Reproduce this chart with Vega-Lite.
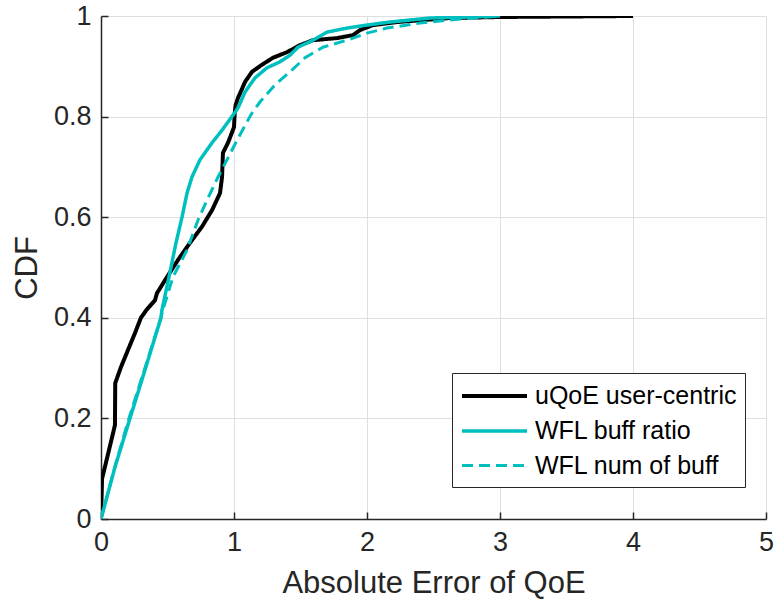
{
  "$schema": "https://vega.github.io/schema/vega-lite/v6.json",
  "width": 665,
  "height": 503,
  "autosize": {"type": "none"},
  "padding": {"left": 101, "top": 16, "right": 10, "bottom": 91},
  "background": "white",
  "config": {
    "font": "Liberation Sans",
    "view": {"stroke": null},
    "axis": {
      "domainColor": "#262626",
      "domainWidth": 1.5,
      "tickColor": "#262626",
      "tickWidth": 1.5,
      "tickSize": -7,
      "gridColor": "#dfdfdf",
      "gridWidth": 1,
      "labelColor": "#262626",
      "labelFont": "Liberation Sans",
      "labelFontSize": 27,
      "titleColor": "#262626",
      "titleFont": "Liberation Sans",
      "titleFontSize": 31,
      "titleFontWeight": "normal"
    }
  },
  "data": {
    "values": [
      {"s": "uQoE user-centric", "x": 0, "y": 0},
      {"s": "uQoE user-centric", "x": 0.008, "y": 0.08},
      {"s": "uQoE user-centric", "x": 0.09, "y": 0.17},
      {"s": "uQoE user-centric", "x": 0.105, "y": 0.187},
      {"s": "uQoE user-centric", "x": 0.107, "y": 0.27},
      {"s": "uQoE user-centric", "x": 0.15, "y": 0.302},
      {"s": "uQoE user-centric", "x": 0.203, "y": 0.336},
      {"s": "uQoE user-centric", "x": 0.256, "y": 0.37},
      {"s": "uQoE user-centric", "x": 0.3, "y": 0.4},
      {"s": "uQoE user-centric", "x": 0.343, "y": 0.416},
      {"s": "uQoE user-centric", "x": 0.406, "y": 0.435},
      {"s": "uQoE user-centric", "x": 0.421, "y": 0.449},
      {"s": "uQoE user-centric", "x": 0.496, "y": 0.481},
      {"s": "uQoE user-centric", "x": 0.579, "y": 0.515},
      {"s": "uQoE user-centric", "x": 0.669, "y": 0.549},
      {"s": "uQoE user-centric", "x": 0.759, "y": 0.581},
      {"s": "uQoE user-centric", "x": 0.835, "y": 0.614},
      {"s": "uQoE user-centric", "x": 0.895, "y": 0.648},
      {"s": "uQoE user-centric", "x": 0.91, "y": 0.68},
      {"s": "uQoE user-centric", "x": 0.917, "y": 0.728},
      {"s": "uQoE user-centric", "x": 0.955, "y": 0.748},
      {"s": "uQoE user-centric", "x": 1.0, "y": 0.779},
      {"s": "uQoE user-centric", "x": 1.005, "y": 0.805},
      {"s": "uQoE user-centric", "x": 1.012, "y": 0.823},
      {"s": "uQoE user-centric", "x": 1.03, "y": 0.837},
      {"s": "uQoE user-centric", "x": 1.083, "y": 0.869},
      {"s": "uQoE user-centric", "x": 1.135, "y": 0.889},
      {"s": "uQoE user-centric", "x": 1.21, "y": 0.903},
      {"s": "uQoE user-centric", "x": 1.293, "y": 0.917},
      {"s": "uQoE user-centric", "x": 1.398, "y": 0.928},
      {"s": "uQoE user-centric", "x": 1.496, "y": 0.942},
      {"s": "uQoE user-centric", "x": 1.594, "y": 0.952},
      {"s": "uQoE user-centric", "x": 1.774, "y": 0.956},
      {"s": "uQoE user-centric", "x": 1.895, "y": 0.962},
      {"s": "uQoE user-centric", "x": 1.947, "y": 0.972},
      {"s": "uQoE user-centric", "x": 2.045, "y": 0.982},
      {"s": "uQoE user-centric", "x": 2.226, "y": 0.988},
      {"s": "uQoE user-centric", "x": 2.624, "y": 0.996},
      {"s": "uQoE user-centric", "x": 3.0, "y": 0.998},
      {"s": "uQoE user-centric", "x": 4.0, "y": 1.0},

      {"s": "WFL buff ratio", "x": 0, "y": 0},
      {"s": "WFL buff ratio", "x": 0.105, "y": 0.103},
      {"s": "WFL buff ratio", "x": 0.218, "y": 0.2},
      {"s": "WFL buff ratio", "x": 0.335, "y": 0.3},
      {"s": "WFL buff ratio", "x": 0.451, "y": 0.4},
      {"s": "WFL buff ratio", "x": 0.458, "y": 0.415},
      {"s": "WFL buff ratio", "x": 0.511, "y": 0.481},
      {"s": "WFL buff ratio", "x": 0.564, "y": 0.549},
      {"s": "WFL buff ratio", "x": 0.609, "y": 0.6},
      {"s": "WFL buff ratio", "x": 0.647, "y": 0.648},
      {"s": "WFL buff ratio", "x": 0.684, "y": 0.68},
      {"s": "WFL buff ratio", "x": 0.744, "y": 0.714},
      {"s": "WFL buff ratio", "x": 0.835, "y": 0.748},
      {"s": "WFL buff ratio", "x": 0.91, "y": 0.773},
      {"s": "WFL buff ratio", "x": 1.02, "y": 0.813},
      {"s": "WFL buff ratio", "x": 1.035, "y": 0.82},
      {"s": "WFL buff ratio", "x": 1.083, "y": 0.849},
      {"s": "WFL buff ratio", "x": 1.158, "y": 0.877},
      {"s": "WFL buff ratio", "x": 1.248, "y": 0.897},
      {"s": "WFL buff ratio", "x": 1.346, "y": 0.909},
      {"s": "WFL buff ratio", "x": 1.421, "y": 0.922},
      {"s": "WFL buff ratio", "x": 1.481, "y": 0.938},
      {"s": "WFL buff ratio", "x": 1.594, "y": 0.952},
      {"s": "WFL buff ratio", "x": 1.699, "y": 0.968},
      {"s": "WFL buff ratio", "x": 1.85, "y": 0.976},
      {"s": "WFL buff ratio", "x": 2.0, "y": 0.982},
      {"s": "WFL buff ratio", "x": 2.173, "y": 0.988},
      {"s": "WFL buff ratio", "x": 2.474, "y": 0.996},
      {"s": "WFL buff ratio", "x": 2.77, "y": 0.998},
      {"s": "WFL buff ratio", "x": 3.0, "y": 1.0},

      {"s": "WFL num of buff", "x": 0, "y": 0},
      {"s": "WFL num of buff", "x": 0.1, "y": 0.1},
      {"s": "WFL num of buff", "x": 0.21, "y": 0.2},
      {"s": "WFL num of buff", "x": 0.33, "y": 0.3},
      {"s": "WFL num of buff", "x": 0.45, "y": 0.4},
      {"s": "WFL num of buff", "x": 0.466, "y": 0.416},
      {"s": "WFL num of buff", "x": 0.541, "y": 0.481},
      {"s": "WFL num of buff", "x": 0.647, "y": 0.535},
      {"s": "WFL num of buff", "x": 0.729, "y": 0.594},
      {"s": "WFL num of buff", "x": 0.797, "y": 0.634},
      {"s": "WFL num of buff", "x": 0.88, "y": 0.68},
      {"s": "WFL num of buff", "x": 0.947, "y": 0.714},
      {"s": "WFL num of buff", "x": 1.023, "y": 0.753},
      {"s": "WFL num of buff", "x": 1.105, "y": 0.793},
      {"s": "WFL num of buff", "x": 1.135, "y": 0.807},
      {"s": "WFL num of buff", "x": 1.195, "y": 0.829},
      {"s": "WFL num of buff", "x": 1.308, "y": 0.863},
      {"s": "WFL num of buff", "x": 1.421, "y": 0.889},
      {"s": "WFL num of buff", "x": 1.534, "y": 0.917},
      {"s": "WFL num of buff", "x": 1.669, "y": 0.938},
      {"s": "WFL num of buff", "x": 1.85, "y": 0.952},
      {"s": "WFL num of buff", "x": 1.895, "y": 0.956},
      {"s": "WFL num of buff", "x": 2.0, "y": 0.966},
      {"s": "WFL num of buff", "x": 2.15, "y": 0.976},
      {"s": "WFL num of buff", "x": 2.4, "y": 0.986},
      {"s": "WFL num of buff", "x": 2.7, "y": 0.994},
      {"s": "WFL num of buff", "x": 3.0, "y": 1.0}
    ]
  },
  "mark": {"type": "line", "clip": true},
  "encoding": {
    "x": {
      "field": "x", "type": "quantitative",
      "scale": {"domain": [0, 5], "nice": false, "zero": false},
      "axis": {"title": "Absolute Error of QoE", "values": [0, 1, 2, 3, 4, 5], "format": "~g", "labelPadding": 17, "titlePadding": 13, "labelFlush": false}
    },
    "y": {
      "field": "y", "type": "quantitative",
      "scale": {"domain": [0, 1], "nice": false},
      "axis": {"title": "CDF", "values": [0, 0.2, 0.4, 0.6, 0.8, 1], "format": "~g", "labelPadding": 17, "titlePadding": 10, "labelFlush": false}
    },
    "color": {
      "field": "s", "type": "nominal",
      "scale": {"domain": ["uQoE user-centric", "WFL buff ratio", "WFL num of buff"], "range": ["#000000", "#00BFBF", "#00BFBF"]},
      "legend": {
        "title": null,
        "orient": "none",
        "legendX": 351,
        "legendY": 357,
        "fillColor": "white",
        "strokeColor": "#262626",
        "padding": 8,
        "symbolType": "M-1,0H4",
        "symbolSize": 676,
        "symbolFillColor": "transparent",
        "symbolStrokeWidth": 4,
        "labelFont": "Liberation Sans",
        "labelFontSize": 25,
        "labelColor": "#000000",
        "labelOffset": 45,
        "rowPadding": 7,
        "labelLimit": 400
      }
    },
    "strokeDash": {
      "field": "s", "type": "nominal",
      "scale": {"domain": ["uQoE user-centric", "WFL buff ratio", "WFL num of buff"], "range": [[1, 0], [1, 0], [11, 6]]},
      "legend": null
    },
    "strokeWidth": {
      "field": "s", "type": "nominal",
      "scale": {"domain": ["uQoE user-centric", "WFL buff ratio", "WFL num of buff"], "range": [4, 3, 3]},
      "legend": null
    }
  }
}
